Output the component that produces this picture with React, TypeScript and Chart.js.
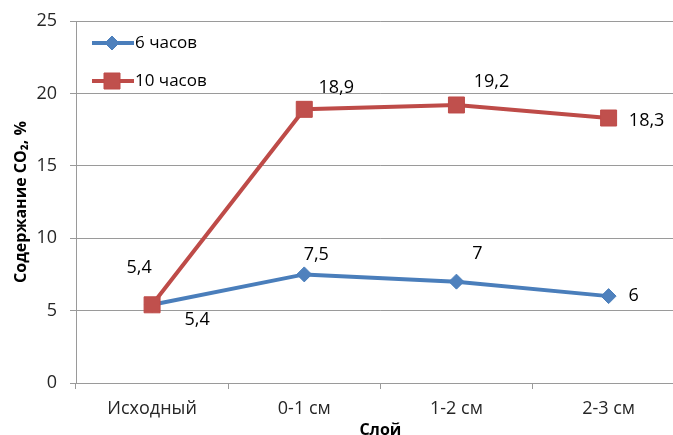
import React, { useEffect, useRef } from "react";
import { Chart, registerables } from "chart.js";

Chart.register(...registerables);

const categories = ["Исходный", "0-1 см", "1-2 см", "2-3 см"];
const series6h = [5.4, 7.5, 7, 6];
const series10h = [5.4, 18.9, 19.2, 18.3];
const seriesNames = ["6 часов", "10 часов"];
const yMin = 0;
const yMax = 25;
const yStep = 5;
const yTitle = "Содержание CO₂, %";
const xTitle = "Слой";

// label placement offsets (styling), per dataset per point
const labelOffsets = [
  [[45, 15], [12, -20], [21, -28], [25, 0]],
  [[-13, -37], [32, -21], [35, -23], [38, 3]],
];

const FONT = "'Open Sans', 'Noto Sans', 'DejaVu Sans', sans-serif";
const FS = 18;
const FS_LEGEND = 17;
const FS_TITLE = 16;
const BLUE = "#4A7EBB";
const BLUE_FILL = "#4F81BD";
const RED = "#BE4B48";
const RED_FILL = "#C0504D";
const GRID = "#9a9a9a";
const TEXT = "#262626";

const fmt = (v: number) => String(v).replace(".", ",");

function drawMarker(ctx: CanvasRenderingContext2D, style: string, x: number, y: number, fill: string, stroke: string) {
  ctx.save();
  ctx.fillStyle = fill;
  ctx.strokeStyle = stroke;
  ctx.lineWidth = 1;
  ctx.beginPath();
  if (style === "rect") {
    const s = 8;
    ctx.rect(x - s, y - s, 2 * s, 2 * s);
  } else {
    const r = 7;
    ctx.moveTo(x, y - r);
    ctx.lineTo(x + r, y);
    ctx.lineTo(x, y + r);
    ctx.lineTo(x - r, y);
    ctx.closePath();
  }
  ctx.fill();
  ctx.stroke();
  ctx.restore();
}

const dataLabelPlugin = {
  id: "dataLabels",
  afterDatasetsDraw(chart: any) {
    const ctx = chart.ctx as CanvasRenderingContext2D;
    ctx.save();
    ctx.font = `${FS}px ${FONT}`;
    ctx.fillStyle = "#000";
    ctx.textAlign = "center";
    ctx.textBaseline = "middle";
    chart.data.datasets.forEach((ds: any, di: number) => {
      const meta = chart.getDatasetMeta(di);
      meta.data.forEach((pt: any, i: number) => {
        const [dx, dy] = labelOffsets[di][i];
        ctx.fillText(fmt(ds.data[i]), pt.x + dx, pt.y + dy);
      });
    });
    ctx.restore();
  },
};

const legendPlugin = {
  id: "insideLegend",
  afterDraw(chart: any) {
    const ctx = chart.ctx as CanvasRenderingContext2D;
    const { left, top } = chart.chartArea;
    const items = [
      { name: seriesNames[0], color: BLUE, fill: BLUE_FILL, style: "rectRot" },
      { name: seriesNames[1], color: RED, fill: RED_FILL, style: "rect" },
    ];
    items.forEach((it, k) => {
      const y = top + 22 + k * 38;
      ctx.save();
      ctx.strokeStyle = it.color;
      ctx.lineWidth = 4;
      ctx.beginPath();
      ctx.moveTo(left + 16, y);
      ctx.lineTo(left + 58, y);
      ctx.stroke();
      ctx.restore();
      drawMarker(ctx, it.style, left + 36, y, it.fill, it.color);
      ctx.save();
      ctx.font = `${FS_LEGEND}px ${FONT}`;
      ctx.fillStyle = "#000";
      ctx.textAlign = "left";
      ctx.textBaseline = "middle";
      ctx.fillText(it.name, left + 59, y);
      ctx.restore();
    });
  },
};

export default function App() {
  const ref = useRef<HTMLCanvasElement | null>(null);

  useEffect(() => {
    if (!ref.current) return;
    const chart = new Chart(ref.current, {
      type: "line",
      data: {
        labels: categories,
        datasets: [
          {
            label: seriesNames[0],
            data: series6h,
            borderColor: BLUE,
            backgroundColor: BLUE_FILL,
            pointBackgroundColor: BLUE_FILL,
            pointBorderColor: BLUE,
            borderWidth: 4,
            pointStyle: "rectRot",
            pointRadius: 7.5,
            pointBorderWidth: 1,
            tension: 0,
            order: 1,
          },
          {
            label: seriesNames[1],
            data: series10h,
            borderColor: RED,
            backgroundColor: RED_FILL,
            pointBackgroundColor: RED_FILL,
            pointBorderColor: RED,
            borderWidth: 4,
            pointStyle: "rect",
            pointRadius: 11.3,
            pointBorderWidth: 1,
            tension: 0,
            order: 0,
          },
        ],
      },
      options: {
        responsive: false,
        animation: false,
        layout: { padding: { top: 21, right: 7, left: 0, bottom: 0 } },
        plugins: {
          legend: { display: false },
          tooltip: { enabled: false },
        },
        scales: {
          x: {
            offset: true,
            grid: {
              offset: true,
              drawOnChartArea: false,
              drawTicks: true,
              tickLength: 6,
              color: GRID,
            },
            border: { display: true, color: GRID, width: 1 },
            ticks: {
              color: TEXT,
              font: { family: FONT, size: FS },
              padding: 9,
              maxRotation: 0,
            },
            title: {
              display: true,
              text: xTitle,
              color: "#000",
              font: { family: FONT, size: FS_TITLE, weight: "bold" },
              padding: { top: 0, bottom: 0 },
            },
            afterFit: (s: any) => {
              s.height = 57;
              s.paddingLeft = 0;
              s.paddingRight = 0;
            },
          },
          y: {
            min: yMin,
            max: yMax,
            grid: { color: GRID, tickLength: 6, drawTicks: true },
            border: { display: true, color: GRID, width: 1 },
            ticks: {
              stepSize: yStep,
              color: TEXT,
              font: { family: FONT, size: FS },
              padding: 13,
            },
            title: {
              display: true,
              text: yTitle,
              color: "#000",
              font: { family: FONT, size: FS_TITLE, weight: "bold" },
              padding: { top: 12, bottom: 0 },
            },
            afterFit: (s: any) => {
              s.width = 76;
              s.paddingTop = 0;
              s.paddingBottom = 0;
            },
          },
        },
      },
      plugins: [dataLabelPlugin, legendPlugin],
    });
    return () => chart.destroy();
  }, []);

  return (
    <div
      style={{
        position: "absolute",
        left: 0,
        top: 0,
        width: 673,
        height: 435,
        overflow: "hidden",
        background: "#fff",
      }}
    >
      <canvas ref={ref} width={697} height={440} style={{ display: "block", width: 697, height: 440 }} />
    </div>
  );
}
